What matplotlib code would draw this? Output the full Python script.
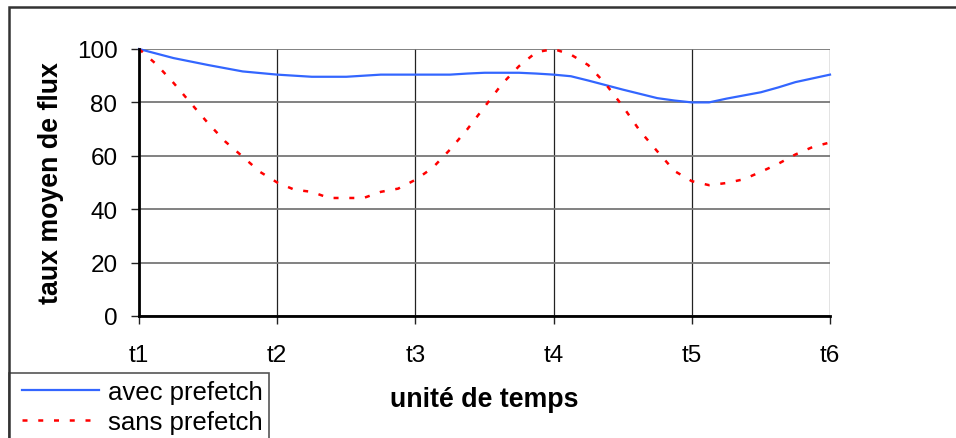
import numpy as np
import matplotlib
matplotlib.use("Agg")
import matplotlib.pyplot as plt
from matplotlib.patches import Rectangle

# one sample every 1/8 of a time unit (41 points, t1..t6)
tick_labels = ["t1", "t2", "t3", "t4", "t5", "t6"]
avec_prefetch = [100, 98.3, 96.6, 95.3, 94.0, 92.8, 91.6, 91.0,
                 90.4, 90.0, 89.6, 89.6, 89.6, 90.0, 90.4, 90.4,
                 90.4, 90.4, 90.4, 90.8, 91.1, 91.1, 91.1, 90.8,
                 90.4, 89.8, 88.2, 86.5, 84.8, 83.2, 81.6, 80.7,
                 80.0, 80.0, 81.4, 82.6, 83.8, 85.6, 87.6, 89.0,
                 90.4]
sans_prefetch = [100, 94.3, 87.3, 79.7, 72.2, 65.3, 59.7, 54.0,
                 50.0, 47.3, 46.5, 44.2, 44.2, 44.2, 46.5, 47.7,
                 51.0, 55.5, 62.3, 69.9, 78.3, 86.8, 93.6, 98.8,
                 100, 97.9, 94.0, 87.0, 78.6, 69.3, 61.7, 54.3,
                 50.5, 49.0, 49.8, 51.2, 54.0, 57.0, 60.5, 63.3,
                 65.0]
steps_per_unit = 8

plt.rcParams["font.family"] = ["Liberation Sans", "DejaVu Sans"]

W, H = 956, 439
fig = plt.figure(figsize=(W / 100, H / 100), dpi=100)
ax = fig.add_axes([139 / W, 1 - 317 / H, (830 - 139) / W, (317 - 50) / H])

x = np.arange(len(avec_prefetch))
ax.plot(x, avec_prefetch, color="#3366ff", lw=1.6, label="avec prefetch",
        zorder=3, clip_on=False)
ax.plot(x, sans_prefetch, color="#ff0000", lw=1.8, ls=(0, (2.0, 4.3)),
        label="sans prefetch", zorder=3, clip_on=False)

ax.set_xlim(0, len(x) - 1)
ax.set_ylim(0, 100)
ax.set_yticks(np.arange(0, 101, 20))
ax.set_xticks(np.arange(0, len(x), steps_per_unit))
ax.set_xticklabels(tick_labels)

# grid: grey horizontals, dark verticals
ax.grid(axis="y", color="#777777", lw=1.3)
ax.grid(axis="x", color="#222222", lw=0.9)
ax.set_axisbelow(True)
for side in ("top", "right"):
    ax.spines[side].set_visible(False)
for side in ("left", "bottom"):
    ax.spines[side].set_linewidth(2.0)
    ax.spines[side].set_color("black")
    ax.spines[side].set_zorder(4)

ax.tick_params(axis="y", length=5.5, width=1.0, color="#222222", pad=10,
               labelsize=17.5)
ax.tick_params(axis="x", length=5.5, width=1.0, color="#222222", pad=15,
               labelsize=17.5)

ax.set_xlabel("unité de temps", fontsize=19.3, fontweight="bold", labelpad=14)
ax.set_ylabel("taux moyen de flux", fontsize=19.3, fontweight="bold",
              labelpad=9)

# legend box drawn separately (it runs off the bottom edge)
fig.add_artist(Rectangle((9 / W, -0.2), (269 - 9) / W, 0.2 + 1 - 374 / H,
                         fill=False, lw=1.2, ec="#555555",
                         transform=fig.transFigure))
ax.legend(loc="upper left", bbox_to_anchor=(22 / W, 1 - 381 / H),
          bbox_transform=fig.transFigure, borderaxespad=0, borderpad=0,
          frameon=False, fontsize=18.5, handlelength=3.0,
          handletextpad=0.35, labelspacing=0.25)

# chart-area border (runs off the right and bottom edges)
fig.add_artist(Rectangle((9 / W, -0.2), 1.2, 1.2 - 8 / H, fill=False,
                         lw=1.8, ec="#333333", transform=fig.transFigure))

fig.savefig("out.png", dpi=100)
